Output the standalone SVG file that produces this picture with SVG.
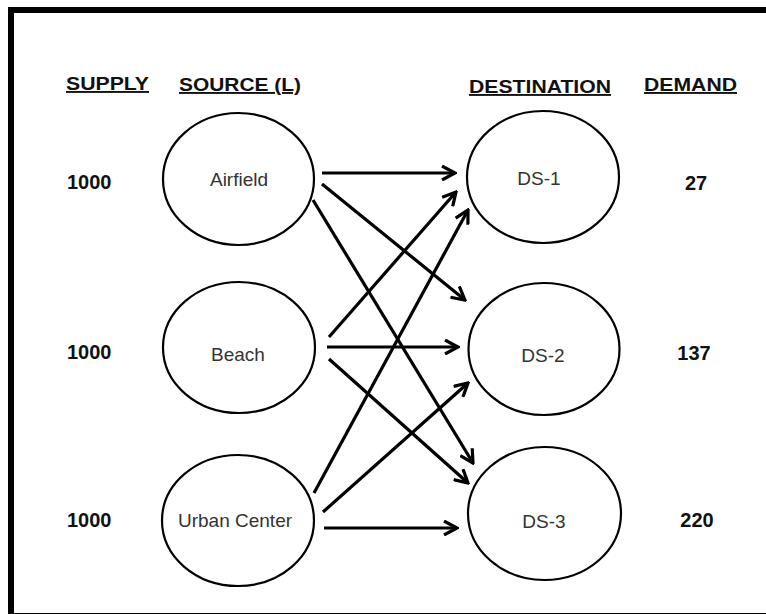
<svg xmlns="http://www.w3.org/2000/svg" width="766" height="614" viewBox="0 0 766 614">
<style>
.hdr{font-family:"Liberation Sans",Arial,sans-serif;font-weight:bold;font-size:19px;fill:#111;text-decoration:underline}
.num{font-family:"Liberation Sans",Arial,sans-serif;font-weight:bold;font-size:20px;fill:#111}
.lbl{font-family:"Liberation Sans",Arial,sans-serif;font-size:19px;fill:#333;text-anchor:middle}
.node{fill:#fff;stroke:#000;stroke-width:2.2}
.edge{stroke:#000;stroke-width:3.2;fill:none;marker-end:url(#arr)}
</style>
<defs>
<marker id="arr" viewBox="0 0 16 16" refX="14" refY="8" markerWidth="16" markerHeight="16" markerUnits="userSpaceOnUse" orient="auto">
<path d="M1,1 L14,8 L1,15" fill="none" stroke="#000" stroke-width="3.2" stroke-linejoin="miter"/>
</marker>
</defs>
<rect x="0" y="0" width="766" height="614" fill="#fff"/>
<rect x="11" y="10" width="770" height="606" fill="none" stroke="#000" stroke-width="6"/>
<g id="headers">
<text class="hdr" x="66" y="90" textLength="83" lengthAdjust="spacingAndGlyphs">SUPPLY</text>
<text class="hdr" x="179" y="91" textLength="122" lengthAdjust="spacingAndGlyphs">SOURCE (L)</text>
<text class="hdr" x="469" y="93" textLength="142" lengthAdjust="spacingAndGlyphs">DESTINATION</text>
<text class="hdr" x="644" y="91" textLength="93" lengthAdjust="spacingAndGlyphs">DEMAND</text>
</g>
<g id="supply">
<text class="num" x="67" y="189">1000</text>
<text class="num" x="67" y="359">1000</text>
<text class="num" x="67" y="527">1000</text>
</g>
<g id="demand">
<text class="num" x="696" y="190" text-anchor="middle">27</text>
<text class="num" x="694" y="360" text-anchor="middle">137</text>
<text class="num" x="697" y="527" text-anchor="middle">220</text>
</g>
<g id="connectors">
<line class="edge" x1="322" y1="173" x2="455" y2="173"/>
<line class="edge" x1="322" y1="184" x2="465" y2="300"/>
<line class="edge" x1="313" y1="200" x2="473" y2="463"/>
<line class="edge" x1="329" y1="337" x2="456" y2="192"/>
<line class="edge" x1="327" y1="347" x2="458" y2="347"/>
<line class="edge" x1="329" y1="359" x2="468" y2="483"/>
<line class="edge" x1="314" y1="493" x2="468" y2="210"/>
<line class="edge" x1="323" y1="512" x2="468" y2="383"/>
<line class="edge" x1="324" y1="528" x2="457" y2="528"/>
</g>
<g id="airfield"><ellipse class="node" cx="238.5" cy="179" rx="75.5" ry="66"/><text class="lbl" x="239" y="186">Airfield</text></g>
<g id="beach"><ellipse class="node" cx="239" cy="347.5" rx="76" ry="65.5"/><text class="lbl" x="238" y="361">Beach</text></g>
<g id="urban"><ellipse class="node" cx="238" cy="520.5" rx="76" ry="65.5"/><text class="lbl" x="235" y="527">Urban Center</text></g>
<g id="ds1"><ellipse class="node" cx="543" cy="177" rx="76" ry="66"/><text class="lbl" x="539" y="185">DS-1</text></g>
<g id="ds2"><ellipse class="node" cx="544" cy="349" rx="75.5" ry="66"/><text class="lbl" x="543" y="362">DS-2</text></g>
<g id="ds3"><ellipse class="node" cx="544.5" cy="513.5" rx="76.5" ry="66.5"/><text class="lbl" x="544" y="528">DS-3</text></g>
</svg>
